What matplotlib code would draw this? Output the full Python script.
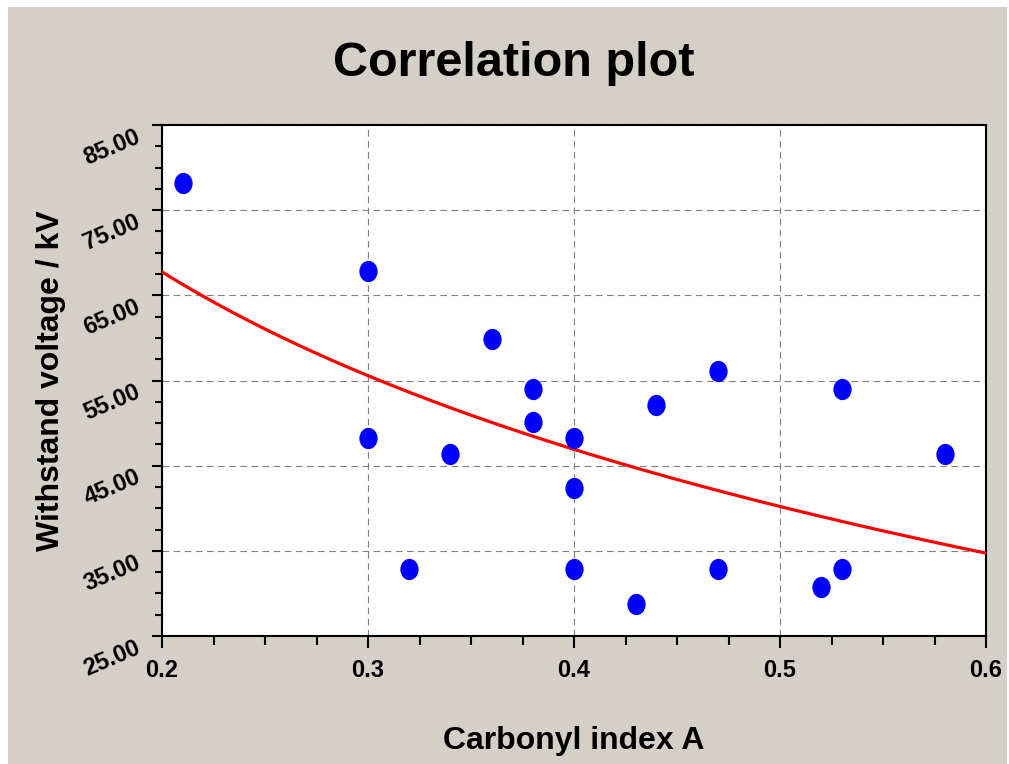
# Correlation plot - withstand voltage vs carbonyl index, with log fit
import numpy as np
import matplotlib.pyplot as plt
from matplotlib.path import Path
from matplotlib.patches import Rectangle
from matplotlib.transforms import ScaledTranslation, Affine2D
from matplotlib.ticker import MultipleLocator, FormatStrFormatter

plt.rcParams['font.family'] = ['Liberation Sans', 'DejaVu Sans']

# -------- Data --------
carbonyl_index = [0.21, 0.30, 0.30, 0.32, 0.34, 0.36, 0.38, 0.38, 0.40, 0.40,
                  0.40, 0.43, 0.44, 0.47, 0.47, 0.52, 0.53, 0.53, 0.58]
withstand_kv = [78.2, 67.8, 48.3, 32.9, 46.4, 59.9, 54.0, 50.1, 48.3, 42.4,
                32.9, 28.8, 52.1, 56.1, 32.9, 30.8, 54.0, 32.9, 46.4]

X_LIM = (0.2, 0.6)
Y_LIM = (25, 85)
X_TICKS = [0.2, 0.3, 0.4, 0.5, 0.6]
Y_TICKS = [25, 35, 45, 55, 65, 75, 85]

# -------- Fit y = a + b*ln(x) --------
x = np.array(carbonyl_index)
y = np.array(withstand_kv)
b, a = np.polyfit(np.log(x), y, 1)
xf = np.linspace(X_LIM[0], X_LIM[1], 200)
yf = a + b * np.log(xf)

# -------- Plot --------
fig = plt.figure(figsize=(10.09, 7.64), dpi=100)
fig.patch.set_facecolor('white')
fig.patches.append(Rectangle((8 / 1009, 0), 999 / 1009, 1 - 7 / 764, transform=fig.transFigure,
                             facecolor='#d4d0c8', edgecolor='none', zorder=-10))
ax = fig.add_axes([162 / 1009, 1 - 636 / 764, 824 / 1009, 511 / 764])
ax.set_facecolor('white')

# slightly tall ellipse markers like the original
ellipse = Path.unit_circle().transformed(Affine2D().scale(0.86, 1.0))
ax.plot(xf, yf, color='#ff0000', lw=2.3, zorder=3)
ax.plot(x, y, linestyle='none', marker=ellipse, markersize=15.3,
        color='#0000ff', markeredgewidth=0, zorder=4)

ax.set_xlim(*X_LIM)
ax.set_ylim(*Y_LIM)
ax.set_xticks(X_TICKS)
ax.set_yticks(Y_TICKS)
ax.xaxis.set_minor_locator(MultipleLocator(0.025))
ax.yaxis.set_minor_locator(MultipleLocator(2.5))
ax.xaxis.set_major_formatter(FormatStrFormatter('%.1f'))
ax.yaxis.set_major_formatter(FormatStrFormatter('%.2f'))

ax.grid(True, which='major', color='#808080', linestyle=(0, (6, 4)), linewidth=0.8)
for s in ax.spines.values():
    s.set_linewidth(1.5)
    s.set_color('black')

ax.tick_params(axis='both', which='major', direction='out', width=1.5, colors='black')
ax.tick_params(axis='x', which='major', length=8.6, pad=8, labelsize=17)
ax.tick_params(axis='x', which='minor', length=6.5, width=1.5)
ax.tick_params(axis='y', which='major', length=7.2, pad=6, labelsize=17)
ax.tick_params(axis='y', which='minor', length=5, width=1.5)

for lbl in ax.get_xticklabels():
    lbl.set_fontweight('bold')
shift = ScaledTranslation(0, -9 / 100, fig.dpi_scale_trans)
for lbl in ax.get_yticklabels():
    lbl.set_fontweight('bold')
    lbl.set_rotation(23)
    lbl.set_transform(lbl.get_transform() + shift)

ax.set_xlabel('Carbonyl index A', fontsize=23, fontweight='bold', labelpad=32)
ax.set_ylabel('Withstand voltage / kV', fontsize=23, fontweight='bold', labelpad=10)
fig.text(514 / 1009, 1 - 63 / 764, 'Correlation plot', fontsize=35, fontweight='bold',
         ha='center', va='center')

fig.savefig('out.png', dpi=100, facecolor=fig.get_facecolor())
